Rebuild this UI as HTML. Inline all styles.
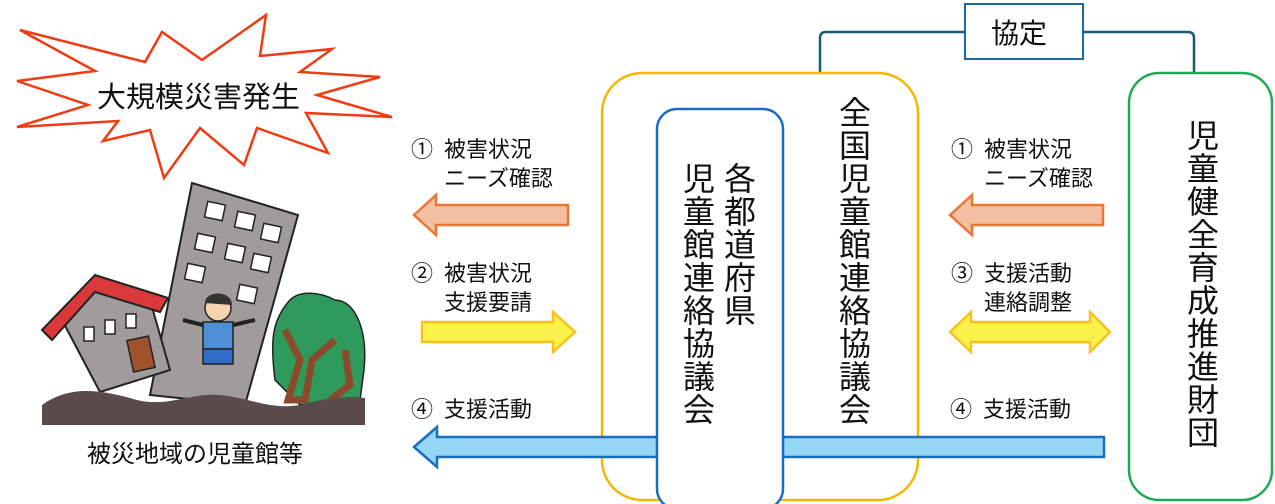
<!DOCTYPE html>
<html><head><meta charset="utf-8"><style>
html,body{margin:0;padding:0;background:#fff;width:1275px;height:504px;overflow:hidden}
svg{display:block}
text{font-family:"Liberation Sans","Noto Sans CJK JP",sans-serif;fill:#111}
</style></head><body>
<svg width="1275" height="504" viewBox="0 0 1275 504" xmlns="http://www.w3.org/2000/svg">
<polygon points="20,30 145,62 162,32 202,60 266,15 260,56 332,49 300,72 380,77 317,95 392,117 306,113 328,153 257,128 244,165 200,128 164,178 150,130 103,141 118,121 17,127 88,105 17,81 95,71" fill="#fff" stroke="#f03c14" stroke-width="2.5"/>
<text x="97" y="107" font-size="29">大規模災害発生</text>
<path d="M192,183 L298,215 L245,405 L150,395 Z" fill="#a09c9c" stroke="#222" stroke-width="2"/>
<g fill="#fff" stroke="#222" stroke-width="1.5">
<rect x="206" y="203" width="18" height="16" transform="rotate(12 215 211)"/>
<rect x="236" y="213" width="18" height="16" transform="rotate(12 245 221)"/>
<rect x="262" y="225" width="18" height="16" transform="rotate(12 271 233)"/>
<rect x="196" y="235" width="18" height="16" transform="rotate(12 205 243)"/>
<rect x="226" y="245" width="18" height="16" transform="rotate(12 235 253)"/>
<rect x="252" y="255" width="18" height="16" transform="rotate(12 261 263)"/>
<rect x="186" y="265" width="18" height="16" transform="rotate(12 195 273)"/>
<rect x="238" y="286" width="18" height="16" transform="rotate(12 247 294)"/>
</g>
<path d="M95,278 L150,300 L170,370 L100,392 L62,320 Z" fill="#a09c9c" stroke="#222" stroke-width="2"/>
<path d="M42,330 L95,275 L168,298 L160,312 L95,292 L52,340 Z" fill="#d9393b" stroke="#222" stroke-width="2"/>
<rect x="130" y="338" width="22" height="32" fill="#a0522d" stroke="#222" stroke-width="1.5" transform="rotate(-12 141 354)"/>
<g fill="#fff" stroke="#222" stroke-width="1.5">
<rect x="84" y="327" width="10" height="14"/><rect x="105" y="320" width="10" height="14"/><rect x="126" y="314" width="10" height="14"/>
</g>
<path d="M275,380 C270,340 272,320 290,300 C300,290 320,292 335,300 C355,300 368,330 364,370 L360,400 L300,405 Z" fill="#2e9a5c" stroke="#222" stroke-width="1.5"/>
<path d="M285,330 L300,360 L288,400 L305,400 L312,360 L335,340 M345,350 L350,385 L330,400" fill="none" stroke="#8b4a2b" stroke-width="7"/>
<circle cx="218" cy="308" r="13" fill="#f5d5b0" stroke="#222" stroke-width="1.5"/>
<path d="M205,303 C205,290 232,290 232,305 Z" fill="#333"/>
<rect x="203" y="322" width="30" height="27" fill="#4f8fd8" stroke="#222" stroke-width="1.5"/>
<rect x="203" y="349" width="30" height="15" fill="#2f6cc8" stroke="#222" stroke-width="1.5"/>
<path d="M203,325 L183,320 M233,325 L255,320" stroke="#222" stroke-width="4"/>
<path d="M42,405 C70,385 100,390 130,398 C165,410 190,392 220,395 C250,398 270,410 300,405 C320,400 340,395 365,398 L365,425 L42,425 Z" fill="#5a4a4a"/>
<text x="87" y="462" font-size="24">被災地域の児童館等</text>

<path d="M820,72 L820,38 Q820,32 826,32 L965,32 M1083,32 L1188,32 Q1194,32 1194,38 L1194,72" fill="none" stroke="#1c5a7c" stroke-width="2.5"/>
<rect x="965" y="4" width="118" height="55" fill="#fff" stroke="#1a6aa0" stroke-width="2"/>
<text x="991" y="43" font-size="28" fill="#333">協定</text>

<rect x="602" y="73" width="316" height="427" rx="40" fill="#fff" stroke="#f5b800" stroke-width="2.5"/>
<rect x="1129" y="73" width="143" height="427" rx="30" fill="#fff" stroke="#1faa55" stroke-width="2.5"/>

<polygon points="414,447 437,427 437,437 1104,437 1104,457 437,457 437,467" fill="#96d6f6" stroke="#1a6ec0" stroke-width="2.5"/>
<rect x="657" y="109" width="126" height="400" rx="20" fill="#fff" stroke="#1a6ec0" stroke-width="2.5"/>

<polygon points="414,215 436,195 436,205 568,205 568,225 436,225 436,235" fill="#f3c0a4" stroke="#e97837" stroke-width="2.5"/>
<polygon points="950,215 972,195 972,205 1103,205 1103,225 972,225 972,235" fill="#f3c0a4" stroke="#e97837" stroke-width="2.5"/>
<polygon points="422,322 553,322 553,312 575,332 553,352 553,342 422,342" fill="#fcf34a" stroke="#f8c020" stroke-width="2.5"/>
<polygon points="950,332 971,312 971,322 1090,322 1090,312 1110,332 1090,352 1090,342 971,342 971,352" fill="#fcf34a" stroke="#f8c020" stroke-width="2.5"/>

<g font-size="22">
<text x="411" y="157">①</text><text x="444" y="157">被害状況</text><text x="444" y="186">ニーズ確認</text>
<text x="411" y="281">②</text><text x="444" y="281">被害状況</text><text x="444" y="310">支援要請</text>
<text x="411" y="417">④</text><text x="444" y="417">支援活動</text>
<text x="951" y="157">①</text><text x="984" y="157">被害状況</text><text x="984" y="186">ニーズ確認</text>
<text x="951" y="281">③</text><text x="984" y="281">支援活動</text><text x="984" y="310">連絡調整</text>
<text x="950" y="417">④</text><text x="983" y="417">支援活動</text>
</g>

<g font-size="32" text-anchor="middle">
<text x="740" y="190">各</text><text x="740" y="223">都</text><text x="740" y="256">道</text><text x="740" y="289">府</text><text x="740" y="322">県</text>
<text x="699" y="190">児</text><text x="699" y="223">童</text><text x="699" y="256">館</text><text x="699" y="289">連</text><text x="699" y="322">絡</text><text x="699" y="355">協</text><text x="699" y="388">議</text><text x="699" y="421">会</text>
<text x="855" y="124">全</text><text x="855" y="157">国</text><text x="855" y="190">児</text><text x="855" y="223">童</text><text x="855" y="256">館</text><text x="855" y="289">連</text><text x="855" y="322">絡</text><text x="855" y="355">協</text><text x="855" y="388">議</text><text x="855" y="421">会</text>
<text x="1203" y="147">児</text><text x="1203" y="180">童</text><text x="1203" y="213">健</text><text x="1203" y="246">全</text><text x="1203" y="279">育</text><text x="1203" y="312">成</text><text x="1203" y="345">推</text><text x="1203" y="378">進</text><text x="1203" y="411">財</text><text x="1203" y="444">団</text>
</g>
</svg>
</body></html>
